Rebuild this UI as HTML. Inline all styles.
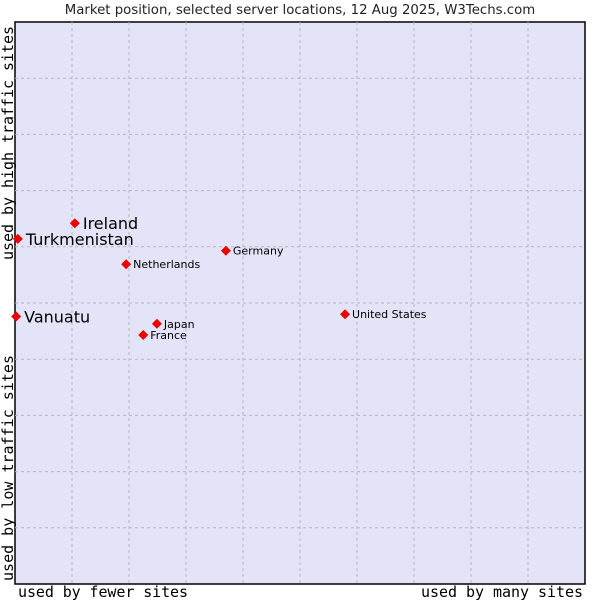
<!DOCTYPE html>
<html><head><meta charset="utf-8"><style>
body{margin:0;background:#fff;width:600px;height:600px;overflow:hidden}
svg text{font-family:"DejaVu Sans","Liberation Sans",sans-serif}
.mono{font-family:"DejaVu Sans Mono","Liberation Mono",monospace}
</style></head><body>
<svg id="chart" width="600" height="600">
<text x="300" y="14" text-anchor="middle" font-size="13.3" fill="#222">Market position, selected server locations, 12 Aug 2025, W3Techs.com</text>
<rect x="15" y="22" width="570" height="562" fill="#e4e4f8" stroke="#000" stroke-width="1.5"/>
<g id="grid"></g>
<g id="points"></g>
<text class="mono" x="18" y="597" font-size="15" fill="#000" textLength="170">used by fewer sites</text>
<text class="mono" x="421" y="597" font-size="15" fill="#000" textLength="162">used by many sites</text>
<text class="mono" transform="translate(13,260) rotate(-90)" font-size="15" fill="#000" textLength="234">used by high traffic sites</text>
<text class="mono" transform="translate(13,581) rotate(-90)" font-size="15" fill="#000" textLength="226">used by low traffic sites</text>
</svg>
<script>
const countries=["Ireland","Turkmenistan","Netherlands","Germany","United States","Vanuatu","Japan","France"];
const xValues=[10.5,0.5,19.5,37.0,57.9,0.2,24.9,22.5];
const yValues=[64.2,61.4,56.9,59.3,48.0,47.6,46.3,44.3];
const bigLabel=[true,true,false,false,false,true,false,false];
const gridTicks=[10,20,30,40,50,60,70,80,90];
const NS="http://www.w3.org/2000/svg";
const X0=15,X1=585,Y0=584,Y1=22;
function sx(v){return X0+v/100*(X1-X0);}
function sy(v){return Y0-v/100*(Y0-Y1);}
const grid=document.getElementById('grid');
gridTicks.forEach(t=>{
  const v=document.createElementNS(NS,'line');
  v.setAttribute('x1',sx(t));v.setAttribute('x2',sx(t));v.setAttribute('y1',Y1);v.setAttribute('y2',Y0);
  v.setAttribute('stroke','#b8b8b8');v.setAttribute('stroke-dasharray','3,3');
  
  
  grid.appendChild(v);
  const h=document.createElementNS(NS,'line');
  h.setAttribute('y1',sy(t));h.setAttribute('y2',sy(t));h.setAttribute('x1',X0);h.setAttribute('x2',X1);
  h.setAttribute('stroke','#b8b8b8');h.setAttribute('stroke-dasharray','3,3');
  
  
  grid.appendChild(h);
});
const pts=document.getElementById('points');
countries.forEach((c,i)=>{
  const x=sx(xValues[i]),y=sy(yValues[i]);
  const d=document.createElementNS(NS,'path');
  d.setAttribute('d',`M${x},${y-5}L${x+5},${y}L${x},${y+5}L${x-5},${y}Z`);
  d.setAttribute('fill','#ee0000');
  
  
  pts.appendChild(d);
  const t=document.createElementNS(NS,'text');
  t.setAttribute('x',x+(bigLabel[i]?8:7));
  t.setAttribute('y',y+(bigLabel[i]?6:4));
  t.setAttribute('font-size',bigLabel[i]?'16':'11');
  t.setAttribute('fill','#000');
  t.textContent=c;
  
  
  pts.appendChild(t);
});
</script>
</body></html>
